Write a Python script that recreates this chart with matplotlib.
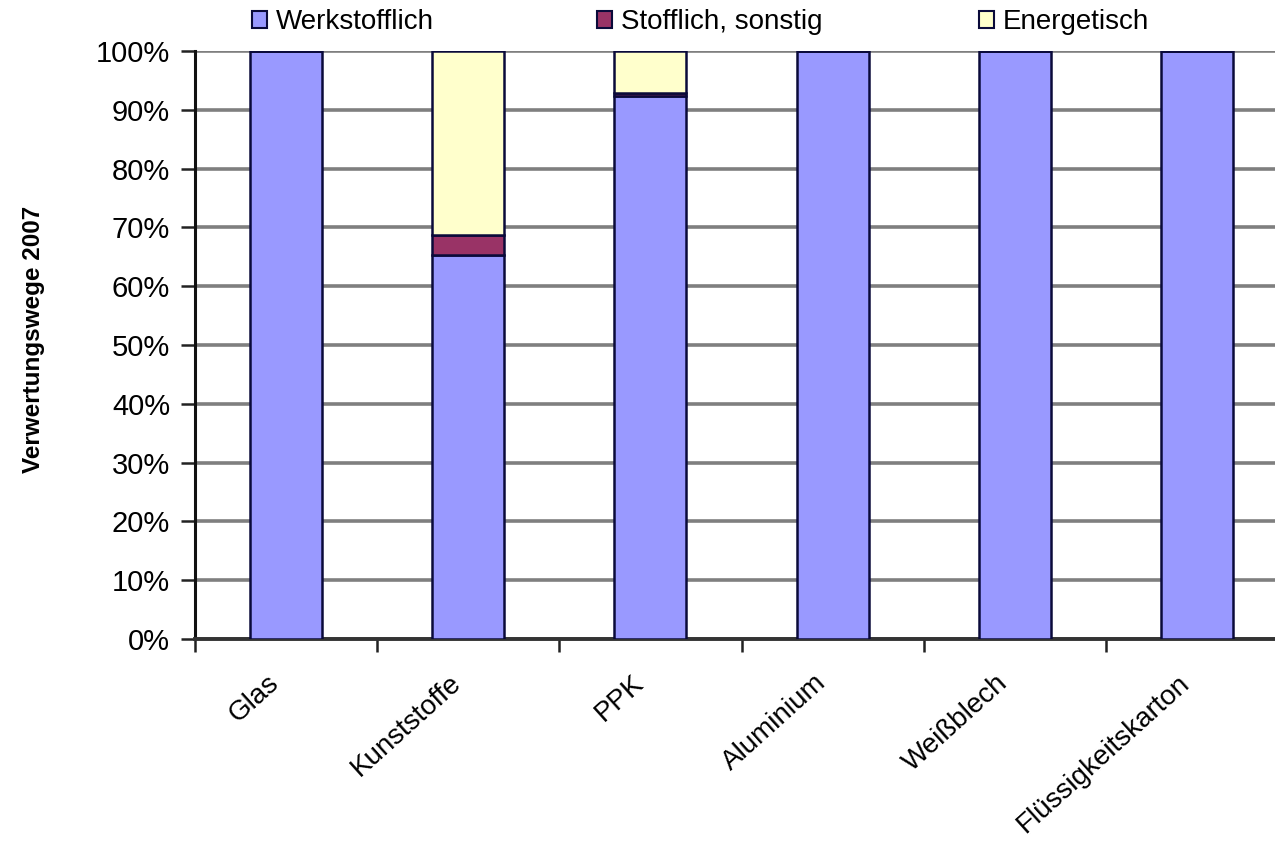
import matplotlib
matplotlib.use("Agg")
import matplotlib.pyplot as plt
import matplotlib.transforms as mtransforms
from matplotlib.patches import Patch
import numpy as np

categories = ["Glas", "Kunststoffe", "PPK", "Aluminium", "Weißblech", "Flüssigkeitskarton"]
werkstofflich = [100.0, 65.3, 92.3, 100.0, 100.0, 100.0]
stofflich = [0.0, 3.4, 0.6, 0.0, 0.0, 0.0]
energetisch = [0.0, 31.3, 7.1, 0.0, 0.0, 0.0]
series_names = ["Werkstofflich", "Stofflich, sonstig", "Energetisch"]
colors = ["#9999FF", "#993366", "#FFFFCC"]
y_ticks = [0, 10, 20, 30, 40, 50, 60, 70, 80, 90, 100]
y_label = "Verwertungswege 2007"

plt.rcParams['font.family'] = ['Liberation Sans', 'DejaVu Sans']

W, H = 1275, 846
fig = plt.figure(figsize=(W/100, H/100), dpi=100)
ax = fig.add_axes([195/W, 1 - 639/H, (1288 - 195)/W, (639 - 51)/H])

x = np.arange(len(categories))
w = 0.395
edge = "#0a0a3a"
bottom = np.zeros(len(categories))
for vals, c in zip([werkstofflich, stofflich, energetisch], colors):
    v = np.array(vals)
    ax.bar(x, v, w, bottom=bottom, color=c, edgecolor=edge, linewidth=1.8, zorder=3)
    bottom += v

ax.set_xlim(-0.5, len(categories) - 0.5)
ax.set_ylim(0, 100)
ax.set_yticks(y_ticks)
ax.set_yticklabels([f"{t}%" for t in y_ticks], fontsize=21)
ax.yaxis.grid(True, color="#7f7f7f", linewidth=2.6, zorder=0)
ax.set_axisbelow(True)

ax.set_xticks(x)
ax.set_xticks(np.arange(-0.5, len(categories)), minor=True)
ax.tick_params(axis='x', which='major', length=0)
ax.tick_params(axis='x', which='minor', length=9, width=1.8, color="#222222", direction='out')
ax.tick_params(axis='y', length=10, width=1.8, color="#222222", direction='out', pad=8)

offset = mtransforms.ScaledTranslation(-0.19, -0.26, fig.dpi_scale_trans)
ax.set_xticklabels(categories, rotation=42, ha='right', rotation_mode='anchor', fontsize=20)
for lab in ax.get_xticklabels():
    lab.set_transform(lab.get_transform() + offset)

for s in ['top', 'right']:
    ax.spines[s].set_visible(False)
ax.spines['left'].set_color("#111111")
ax.spines['left'].set_linewidth(2.2)
ax.spines['bottom'].set_color("#333333")
ax.spines['bottom'].set_linewidth(2.8)

ax.set_ylabel(y_label, fontsize=17.5, fontweight='bold')
ax.yaxis.set_label_coords(-0.137, 0.51)

marker_x = [252, 597, 979]
for name, c, mx in zip(series_names, colors, marker_x):
    h = Patch(facecolor=c, edgecolor=edge, linewidth=1.5)
    fig.legend([h], [name], loc='center left', bbox_to_anchor=(mx/W, 1 - 22/H),
               frameon=False, fontsize=20, handlelength=0.55, handleheight=0.55,
               handletextpad=0.3, borderaxespad=0, borderpad=0)

fig.savefig("out.png", dpi=100)
